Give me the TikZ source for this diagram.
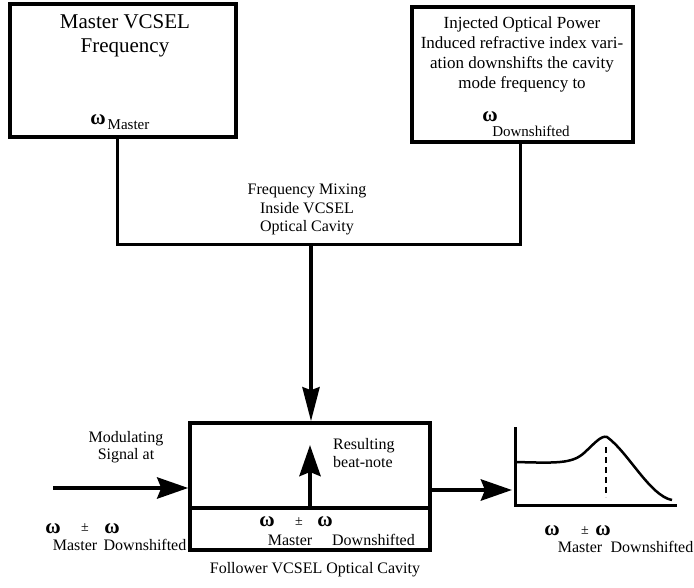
\documentclass[tikz,border=0pt]{standalone}
\usepackage{fontspec}
\setmainfont{Liberation Serif}
\usetikzlibrary{positioning,arrows.meta,calc}
\tikzset{
  box/.style  ={draw=black,line width=3.5pt,inner sep=0pt},
  link/.style ={line width=3pt},
  arr/.style  ={-{Stealth[length=31pt,width=21pt,inset=4pt]},line width=4.5pt},
  txt/.style  ={font=\fontsize{16}{18.5}\selectfont,align=center,inner sep=0pt},
  sym/.style  ={font=\fontsize{21}{21}\selectfont\bfseries,inner sep=0pt},
  pm/.style   ={font=\fontsize{14}{14}\selectfont,inner sep=0pt},
  sub/.style  ={font=\fontsize{16}{16}\selectfont,inner sep=0pt,anchor=base},
}
\begin{document}
\begin{tikzpicture}[x=1pt,y=-1pt]
  \useasboundingbox (0,0) rectangle (694,588);
  % boxes
  \node[box,minimum width=226pt,minimum height=133pt] (master) at (123,70.5) {};
  \node[box,minimum width=221pt,minimum height=135pt] (injected) at (522.5,74.5) {};
  \node[box,minimum width=240pt,minimum height=127pt] (follower) at (310,486.5) {};

  % master box
  \node[txt,font=\fontsize{21}{24}\selectfont] (mastertitle) at (125,36) {Master VCSEL\\Frequency};
  \node[sym] (wmaster) at (98,120) {ω};
  \node[sub,font=\fontsize{15}{15}\selectfont] (wmastersub) at (128.5,130) {Master};

  % injected box
  \node[txt,font=\fontsize{17}{20}\selectfont] (injtext) at (522,54) {Injected Optical Power\\Induced refractive index vari-\\ation downshifts the cavity\\mode frequency to};
  \node[sym] (wdown) at (490,117) {ω};
  \node[sub,font=\fontsize{15}{15}\selectfont] (wdownsub) at (531,137) {Downshifted};

  % mixing
  \coordinate (mix) at (311,245);
  \draw[link] ([xshift=-6pt]master.south) |- (mix);
  \draw[link] ([xshift=-2.5pt]injected.south) |- (mix);
  \node[txt] (mixtext) at (307,209.7) {Frequency Mixing\\Inside VCSEL\\Optical Cavity};
  \draw[line width=4pt,-{Stealth[length=34pt,width=17pt,inset=3pt]}] (mix) -- (mix |- follower.north);

  % follower cavity
  \coordinate (divmid) at (310,508);
  \coordinate (beat) at (310,445);
  \draw[box] (follower.west |- divmid) -- (follower.east |- divmid);
  \draw[arr] (divmid) -- (beat);
  \node[txt,align=left,anchor=west] (beattext) at (333,453) {Resulting\\beat-note};
  \node[sym] (wf1) at (267,522) {ω};
  \node[pm] (pmf) at (299,522) {±};
  \node[sym] (wf2) at (325,522) {ω};
  \node[sub] (wf1sub) at (290,545) {Master};
  \node[sub] (wf2sub) at (373.5,545) {Downshifted};
  \node[sub] (caption) at (315,573) {Follower VCSEL Optical Cavity};

  % modulating input
  \coordinate (modin) at (53,488);
  \draw[arr] (modin) -- (modin -| follower.west);
  \node[txt,font=\fontsize{16}{17}\selectfont] (modtext) at (126,447.5) {Modulating\\Signal at};
  \node[sym] (wl1) at (53,529) {ω};
  \node[pm] (pml) at (85,528) {±};
  \node[sym] (wl2) at (112,529) {ω};
  \node[sub] (wl1sub) at (75,550) {Master};
  \node[sub] (wl2sub) at (145,550) {Downshifted};

  % output spectrum
  \coordinate (plotin) at (512,490);
  \draw[arr] (follower.east |- plotin) -- (plotin);
  \draw[link] (515,427) -- (515,505) -- (677,505);
  \draw[line width=2.5pt] (515,462) .. controls (555,463) and (572,464) .. (584,453)
    .. controls (594,444) and (601,435) .. (607,437)
    .. controls (628,452) and (650,496) .. (672,500);
  \draw[line width=2pt,dash pattern=on 6pt off 4pt] (606,447) -- (606,497);
  \node[sym] (wr1) at (552,531) {ω};
  \node[pm] (pmr) at (585,531) {±};
  \node[sym] (wr2) at (603,531) {ω};
  \node[sub] (wr1sub) at (580,552) {Master};
  \node[sub] (wr2sub) at (652,552) {Downshifted};
\end{tikzpicture}
\end{document}
